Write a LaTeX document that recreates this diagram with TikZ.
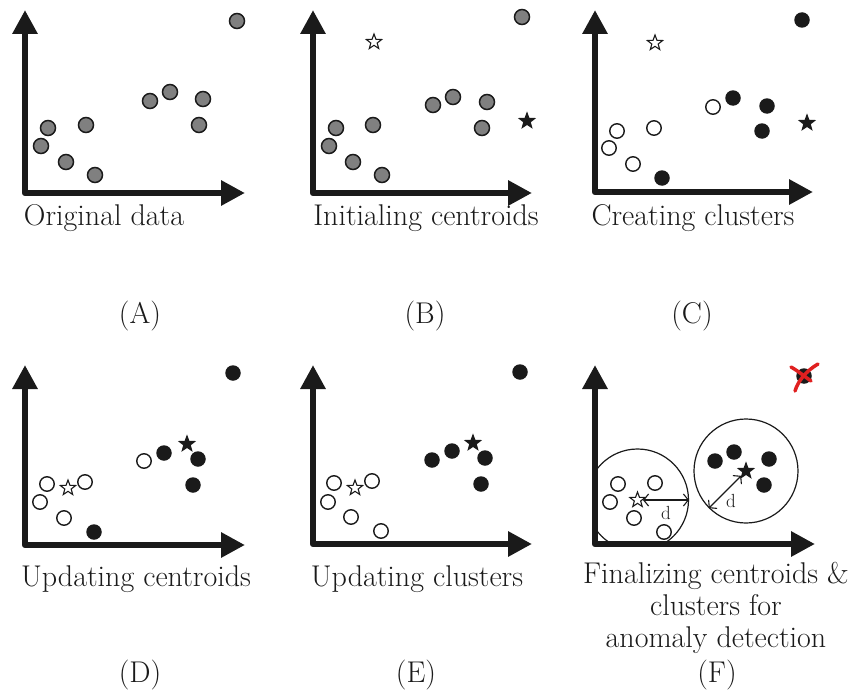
\documentclass[tikz,border=0pt]{standalone}
\usetikzlibrary{arrows.meta,shapes.geometric}
\definecolor{axiscol}{HTML}{1A1A1A}
\definecolor{ptgray}{HTML}{808080}
\definecolor{xred}{HTML}{E02020}
\begin{document}
\begin{tikzpicture}[x=1pt,y=-1pt,
  axis/.style={line width=6.5pt, draw=axiscol, line join=round,
    {Triangle[length=24pt,width=24pt]}-{Triangle[length=24pt,width=24pt]}},
  gpt/.style={circle,draw=axiscol,fill=ptgray,line width=1.5pt,minimum size=15pt,inner sep=0pt},
  bpt/.style={circle,fill=axiscol,minimum size=15.5pt,inner sep=0pt},
  wpt/.style={circle,draw=axiscol,fill=white,line width=1.4pt,minimum size=14.5pt,inner sep=0pt},
  wstar/.style={star,star points=5,star point ratio=2.4,draw=axiscol,fill=white,line width=1.1pt,minimum size=16pt,inner sep=0pt},
  bstar/.style={wstar,fill=axiscol},
  bigcirc/.style={circle,draw=axiscol,line width=1.2pt,inner sep=0pt},
  captxt/.style={font=\fontsize{30}{34}\selectfont, inner sep=0pt, anchor=base, text=axiscol},
  dlab/.style={font=\fontsize{19}{22}\selectfont, inner sep=0pt, text=axiscol},
  dimarrow/.style={line width=1.1pt, draw=axiscol,
    {Straight Barb[length=5pt,width=12pt]}-{Straight Barb[length=5pt,width=12pt]}},
  redx/.style={draw=xred, line width=3.5pt, line cap=round}
]
\useasboundingbox (0,0) rectangle (854,693);

% ---------- Panel F big circles ----------
\begin{scope}
  \clip (595,300) rectangle (854,544);
  \node[bigcirc, minimum size=102pt] (circL) at (637.5,500) {};
\end{scope}
\node[bigcirc, minimum size=104pt] (circR) at (746,471) {};

% ---------- axes ----------
\coordinate (aT) at (25,10);  \coordinate (aO) at (25,193);  \coordinate (aR) at (245,193);
\coordinate (bT) at (313,10); \coordinate (bO) at (313,193); \coordinate (bR) at (532,193);
\coordinate (cT) at (595,10); \coordinate (cO) at (595,192); \coordinate (cR) at (813,192);
\coordinate (dT) at (25,365); \coordinate (dO) at (25,545);  \coordinate (dR) at (245,545);
\coordinate (eT) at (313,365);\coordinate (eO) at (313,544); \coordinate (eR) at (532,544);
\coordinate (fT) at (595,365);\coordinate (fO) at (595,544); \coordinate (fR) at (815,544);
\draw[axis] (aT) -- (aO) -- (aR);
\draw[axis] (bT) -- (bO) -- (bR);
\draw[axis] (cT) -- (cO) -- (cR);
\draw[axis] (dT) -- (dO) -- (dR);
\draw[axis] (eT) -- (eO) -- (eR);
\draw[axis] (fT) -- (fO) -- (fR);

% ---------- Panel A ----------
\node[gpt] (a1) at (237,21) {};
\node[gpt] (a2) at (150,101) {};
\node[gpt] (a3) at (170,92) {};
\node[gpt] (a4) at (203,99) {};
\node[gpt] (a5) at (199,125) {};
\node[gpt] (a6) at (48,128) {};
\node[gpt] (a7) at (86,125) {};
\node[gpt] (a8) at (41,146) {};
\node[gpt] (a9) at (66,162) {};
\node[gpt] (a10) at (95,175) {};

% ---------- Panel B ----------
\node[gpt] (b1) at (522,17) {};
\node[gpt] (b2) at (433,105) {};
\node[gpt] (b3) at (453,97) {};
\node[gpt] (b4) at (487,102) {};
\node[gpt] (b5) at (482,128) {};
\node[gpt] (b6) at (336,128) {};
\node[gpt] (b7) at (373,125) {};
\node[gpt] (b8) at (329,146) {};
\node[gpt] (b9) at (353,162) {};
\node[gpt] (b10) at (382,175) {};
\node[wstar] (bs1) at (374,42) {};
\node[bstar] (bs2) at (527,121) {};

% ---------- Panel C ----------
\node[bpt] (c1) at (802,20) {};
\node[wpt] (c2) at (713,107) {};
\node[bpt] (c3) at (733,98) {};
\node[bpt] (c4) at (767,106) {};
\node[bpt] (c5) at (762,131) {};
\node[wpt] (c6) at (617,131) {};
\node[wpt] (c7) at (654,128) {};
\node[wpt] (c8) at (609,148) {};
\node[wpt] (c9) at (633,164) {};
\node[bpt] (c10) at (662,178) {};
\node[wstar] (cs1) at (655,43) {};
\node[bstar] (cs2) at (807,123) {};

% ---------- Panel D ----------
\node[bpt] (d1) at (233,373) {};
\node[wpt] (d2) at (144,461) {};
\node[bpt] (d3) at (164,453) {};
\node[bpt] (d4) at (198,459) {};
\node[bpt] (d5) at (193,485) {};
\node[wpt] (d6) at (47,484) {};
\node[wpt] (d7) at (85,482) {};
\node[wpt] (d8) at (40,502) {};
\node[wpt] (d9) at (64,518) {};
\node[bpt] (d10) at (94,532) {};
\node[bstar] (ds1) at (187,444) {};
\node[wstar] (ds2) at (68,488) {};

% ---------- Panel E ----------
\node[bpt] (e1) at (520,372) {};
\node[bpt] (e2) at (432,460) {};
\node[bpt] (e3) at (452,451) {};
\node[bpt] (e4) at (485,458) {};
\node[bpt] (e5) at (481,484) {};
\node[wpt] (e6) at (334,483) {};
\node[wpt] (e7) at (372,481) {};
\node[wpt] (e8) at (328,502) {};
\node[wpt] (e9) at (351,517) {};
\node[wpt] (e10) at (381,531) {};
\node[bstar] (es1) at (473,443) {};
\node[wstar] (es2) at (355,488) {};

% ---------- Panel F ----------
\node[bpt] (f1) at (804,376) {};
\draw[redx] (791,367) .. controls (798,371) and (804,376) .. (811,381);
\draw[redx] (818,364) .. controls (806,371) and (798,381) .. (795,391);
\node[bpt] (f2) at (715,461) {};
\node[bpt] (f3) at (734,452) {};
\node[bpt] (f4) at (769,459) {};
\node[bpt] (f5) at (764,485) {};
\node[wpt] (f6) at (618,484) {};
\node[wpt] (f7) at (655,483) {};
\node[wpt] (f8) at (610,502) {};
\node[wpt] (f9) at (634,518) {};
\node[wpt] (f10) at (664,532) {};
\node[wstar] (fsL) at (637.5,500) {};
\node[bstar] (fsR) at (746,471) {};
\draw[dimarrow] (fsL.east) -- (circL.east);
\draw[dimarrow] (fsR) -- (circR.south west);
\node[dlab] (dL) at (666,513) {d};
\node[dlab] (dR) at (731,501) {d};

% ---------- captions ----------
\node[captxt] (tA) at (104,225) {Original data};
\node[captxt] (tB) at (426,225) {Initialing centroids};
\node[captxt] (tC) at (693,225) {Creating clusters};
\node[captxt] (tD) at (136,586) {Updating centroids};
\node[captxt] (tE) at (417,586) {Updating clusters};
\node[captxt] (tF1) at (716,583) {Finalizing centroids \&};
\node[captxt] (tF2) at (716,615) {clusters for};
\node[captxt] (tF3) at (716,647) {anomaly detection};

\node[captxt] (lA) at (140,323) {(A)};
\node[captxt] (lB) at (425,323) {(B)};
\node[captxt] (lC) at (692,323) {(C)};
\node[captxt] (lD) at (140,682) {(D)};
\node[captxt] (lE) at (416,682) {(E)};
\node[captxt] (lF) at (717,682) {(F)};
\end{tikzpicture}
\end{document}
